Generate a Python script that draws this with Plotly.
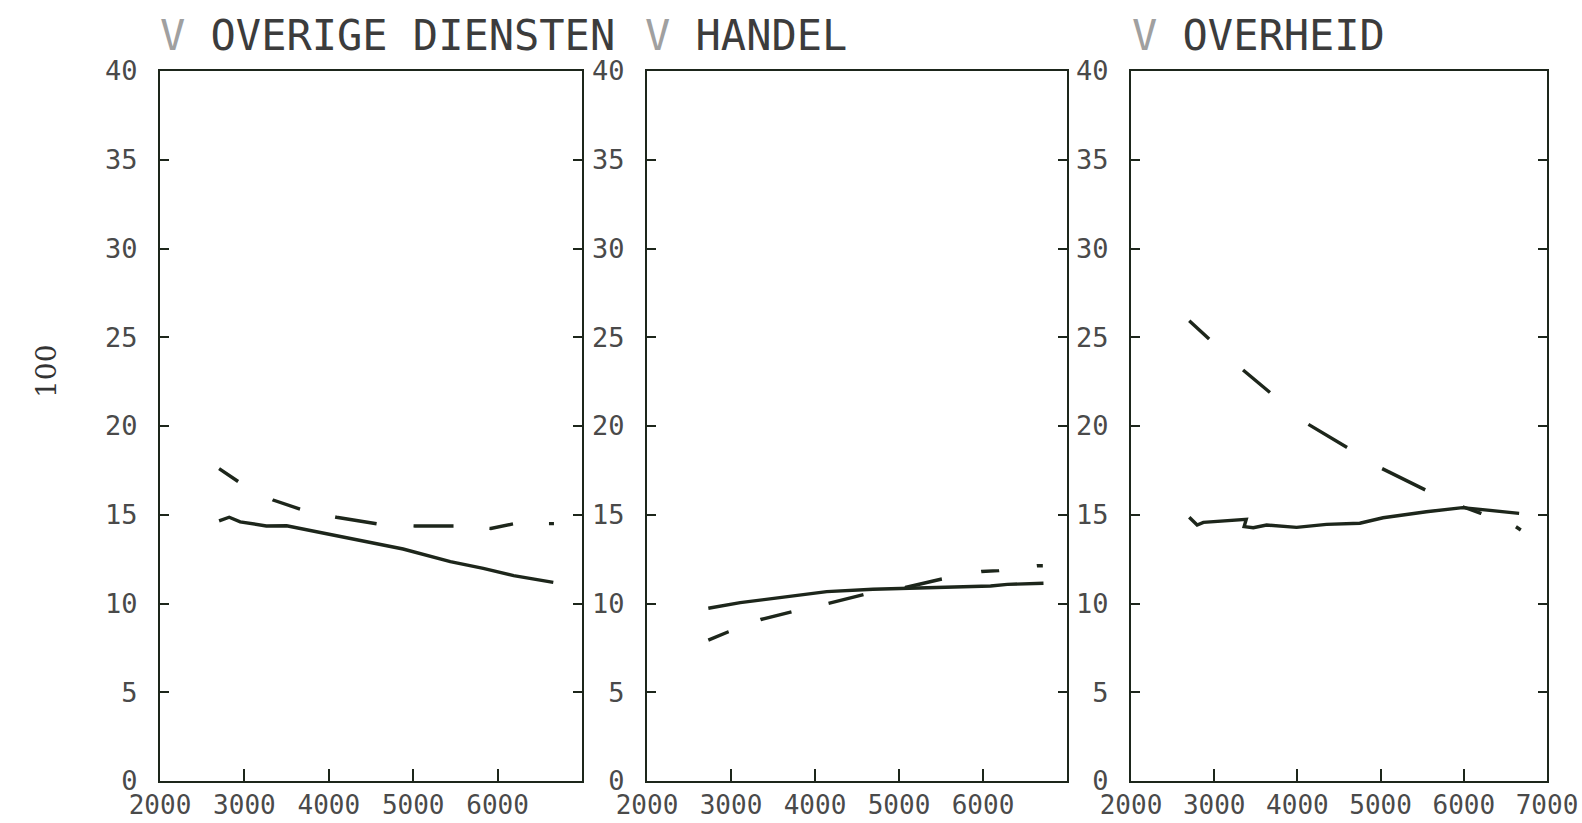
import plotly.graph_objects as go

W, H = 1582, 823

# ---------------- data ----------------
panel_titles = ["OVERIGE DIENSTEN", "HANDEL", "OVERHEID"]
y_axis_label = "100"
x_ticks_short = [2000, 3000, 4000, 5000, 6000]
x_ticks_full = [2000, 3000, 4000, 5000, 6000, 7000]
y_ticks = [0, 5, 10, 15, 20, 25, 30, 35, 40]

# Panel 1: overige diensten
od_solid_x = [2700, 2820, 2950, 3260, 3500, 3660, 4010, 4570, 4880, 5440, 5830, 6190, 6660]
od_solid_y = [14.65, 14.86, 14.6, 14.37, 14.38, 14.23, 13.9, 13.35, 13.07, 12.36, 11.98, 11.57, 11.19]
od_dash_x = [2700, 2930, 3340, 3670, 4090, 4580, 5020, 5500, 5920, 6200, 6630, 6690]
od_dash_y = [17.6, 16.86, 15.83, 15.3, 14.86, 14.48, 14.37, 14.37, 14.23, 14.5, 14.5, 14.5]

# Panel 2: handel
ha_solid_x = [2730, 3110, 3580, 4140, 4690, 5090, 6090, 6290, 6720]
ha_solid_y = [9.73, 10.05, 10.33, 10.67, 10.8, 10.85, 10.99, 11.08, 11.14]
ha_dash_x = [2730, 2970, 3355, 3725, 4160, 4580, 5075, 5510, 5980, 6190, 6645, 6720]
ha_dash_y = [7.94, 8.41, 9.1, 9.54, 10.0, 10.5, 10.9, 11.38, 11.8, 11.85, 12.13, 12.13]

# Panel 3: overheid
ov_solid_x = [2700, 2795, 2870, 3385, 3360, 3470, 3630, 3990, 4350, 4750, 5030, 5550, 5985, 6225, 6665]
ov_solid_y = [14.86, 14.42, 14.57, 14.74, 14.33, 14.27, 14.42, 14.29, 14.46, 14.52, 14.83, 15.17, 15.4, 15.3, 15.08]
ov_dash_x = [2700, 2935, 3347, 3667, 4126, 4593, 5018, 5537, 5985, 6205, 6625, 6685]
ov_dash_y = [25.93, 24.9, 23.15, 21.9, 20.11, 18.8, 17.6, 16.4, 15.45, 15.08, 14.33, 14.14]

# ---------------- styling ----------------
INK = "#1d261b"
TXT = "#4a4a4a"
MONO = "DejaVu Sans Mono"

dashes = [
    "23px,39px,29px,36px,42px,37px,40px,36px,24px,36px,5px,300px",
    "22px,34px,32px,38px,36px,42px,38px,40px,18px,38px,6px,300px",
    "27px,46px,35px,50px,45px,41px,48px,41px,20px,37px,6px,300px",
]

x_domains = [(160 / W, 582 / W), (647 / W, 1067 / W), (1131 / W, 1547 / W)]
y_domain = (1 - 781 / H, 1 - 71 / H)

series = [
    (od_solid_x, od_solid_y, od_dash_x, od_dash_y),
    (ha_solid_x, ha_solid_y, ha_dash_x, ha_dash_y),
    (ov_solid_x, ov_solid_y, ov_dash_x, ov_dash_y),
]

fig = go.Figure()
layout = dict(
    width=W, height=H,
    margin=dict(l=0, r=0, t=0, b=0, pad=0, autoexpand=False),
    paper_bgcolor="white", plot_bgcolor="white",
    showlegend=False,
)

for i, (sx, sy, dx, dy) in enumerate(series):
    n = "" if i == 0 else str(i + 1)
    fig.add_trace(go.Scatter(x=sx, y=sy, mode="lines", xaxis="x" + n, yaxis="y" + n,
                             line=dict(color=INK, width=3.4), hoverinfo="skip"))
    fig.add_trace(go.Scatter(x=dx, y=dy, mode="lines", xaxis="x" + n, yaxis="y" + n,
                             line=dict(color=INK, width=3.4, dash=dashes[i]), hoverinfo="skip"))
    layout["xaxis" + n] = dict(
        domain=list(x_domains[i]), anchor="y" + n, range=[2000, 7000],
        tickmode="array", tickvals=x_ticks_full if i == 2 else x_ticks_short,
        ticks="inside", ticklen=12, tickwidth=1.5, tickcolor=INK,
        showline=True, mirror=True, linecolor=INK, linewidth=2,
        showgrid=False, zeroline=False, ticklabelstandoff=0, automargin=False,
        tickfont=dict(family=MONO, size=26, color=TXT),
    )
    layout["yaxis" + n] = dict(
        domain=list(y_domain), anchor="x" + n, range=[0, 40],
        tickmode="array", tickvals=y_ticks,
        ticks="inside", ticklen=9, tickwidth=1.5, tickcolor=INK,
        showline=True, mirror="ticks", linecolor=INK, linewidth=2,
        showgrid=False, zeroline=False, ticklabelstandoff=15, automargin=False,
        tickfont=dict(family=MONO, size=27, color=TXT),
    )

title_x = [158, 643, 1130]
annotations = []
for i, t in enumerate(panel_titles):
    annotations.append(dict(
        x=title_x[i] / W, y=1 - 35 / H, xref="paper", yref="paper",
        xanchor="left", yanchor="middle", showarrow=False,
        text="<span style='color:#a0a0a0'>V</span> " + t,
        font=dict(family=MONO, size=42, color="#3c3c3c"),
    ))
annotations.append(dict(
    x=46 / W, y=1 - 372 / H, xref="paper", yref="paper",
    xanchor="center", yanchor="middle", showarrow=False, textangle=-90,
    text=y_axis_label, font=dict(family="DejaVu Serif", size=28, color="#333333"),
))
layout["annotations"] = annotations

fig.update_layout(**layout)
fig.write_html("out.html")
